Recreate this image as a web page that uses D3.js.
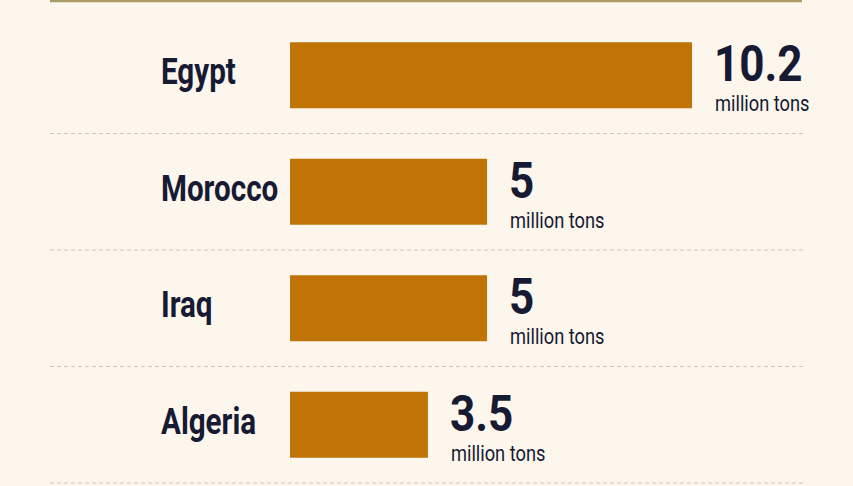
<!DOCTYPE html>
<html>
<head>
<meta charset="utf-8">
<script src="https://cdn.jsdelivr.net/npm/d3@7"></script>
<style>
  html, body { margin: 0; padding: 0; background: #fcf6ed; }
  svg { display: block; }
</style>
</head>
<body>
<script>
// data
var countries = ['Egypt', 'Morocco', 'Iraq', 'Algeria'];
var imports = [10.2, 5, 5, 3.5];
var valueLabels = ['10.2', '5', '5', '3.5'];
var unitLabel = 'million tons';

var opts = {
  width: 853,
  height: 486,
  barLeft: 290,
  barMaxWidth: 402,
  barHeight: 66,
  nameSqueeze: 0.8,
  unitSqueeze: 0.83
};

var svg = d3.select('body').append('svg')
  .attr('width', opts.width)
  .attr('height', opts.height)
  .style('background-color', '#fcf6ed');

// scales
var y = d3.scaleBand()
  .domain(countries)
  .range([17, 483])
  .padding(0);

var x = d3.scaleLinear()
  .domain([0, d3.max(imports)])
  .range([0, opts.barMaxWidth]);

var rows = countries.map(function(c, i) {
  return { country: c, value: imports[i], label: valueLabels[i] };
});

// top rule
svg.append('line')
  .attr('x1', 50).attr('x2', 802)
  .attr('y1', 1).attr('y2', 1)
  .attr('stroke', '#a99a68')
  .attr('stroke-width', 2.5);

// dashed separators under each row
svg.selectAll('.sep')
  .data(rows)
  .enter()
  .append('line')
  .attr('class', 'sep')
  .attr('x1', 50).attr('x2', 806)
  .attr('y1', function(d) { return y(d.country) + y.bandwidth(); })
  .attr('y2', function(d) { return y(d.country) + y.bandwidth(); })
  .attr('stroke', '#cdc6bb')
  .attr('stroke-width', 1)
  .attr('stroke-dasharray', '4,3');

var mid = function(d) { return y(d.country) + y.bandwidth() / 2; };

// bars
svg.selectAll('.bar')
  .data(rows)
  .enter()
  .append('rect')
  .attr('class', 'bar')
  .attr('x', opts.barLeft)
  .attr('y', function(d) { return mid(d) - opts.barHeight / 2; })
  .attr('width', function(d) { return x(d.value); })
  .attr('height', opts.barHeight)
  .attr('fill', '#c07406');

// country names
svg.selectAll('.name')
  .data(rows)
  .enter()
  .append('text')
  .attr('class', 'name')
  .attr('transform', function(d) {
    return 'translate(161,' + (mid(d) + 9) + ') scale(' + opts.nameSqueeze + ',1)';
  })
  .style('font-family', 'Roboto, sans-serif')
  .style('font-weight', 700)
  .style('font-size', '37px')
  .attr('fill', '#161a33')
  .text(function(d) { return d.country; });

// value numbers
svg.selectAll('.val')
  .data(rows)
  .enter()
  .append('text')
  .attr('class', 'val')
  .attr('transform', function(d) {
    return 'translate(' + (opts.barLeft + x(d.value) + 22) + ',' + (mid(d) + 6) + ') scale(0.88,1)';
  })
  .style('font-family', 'Roboto, sans-serif')
  .style('font-weight', 700)
  .style('font-size', '50px')
  .attr('fill', '#161a33')
  .text(function(d) { return d.label; });

// unit text
svg.selectAll('.unit')
  .data(rows)
  .enter()
  .append('text')
  .attr('class', 'unit')
  .attr('transform', function(d) {
    return 'translate(' + (opts.barLeft + x(d.value) + 23) + ',' + (mid(d) + 36) + ') scale(' + opts.unitSqueeze + ',1)';
  })
  .style('font-family', 'Roboto, sans-serif')
  .style('font-weight', 400)
  .style('font-size', '22px')
  .attr('fill', '#161a33')
  .text(unitLabel);
</script>
</body>
</html>
